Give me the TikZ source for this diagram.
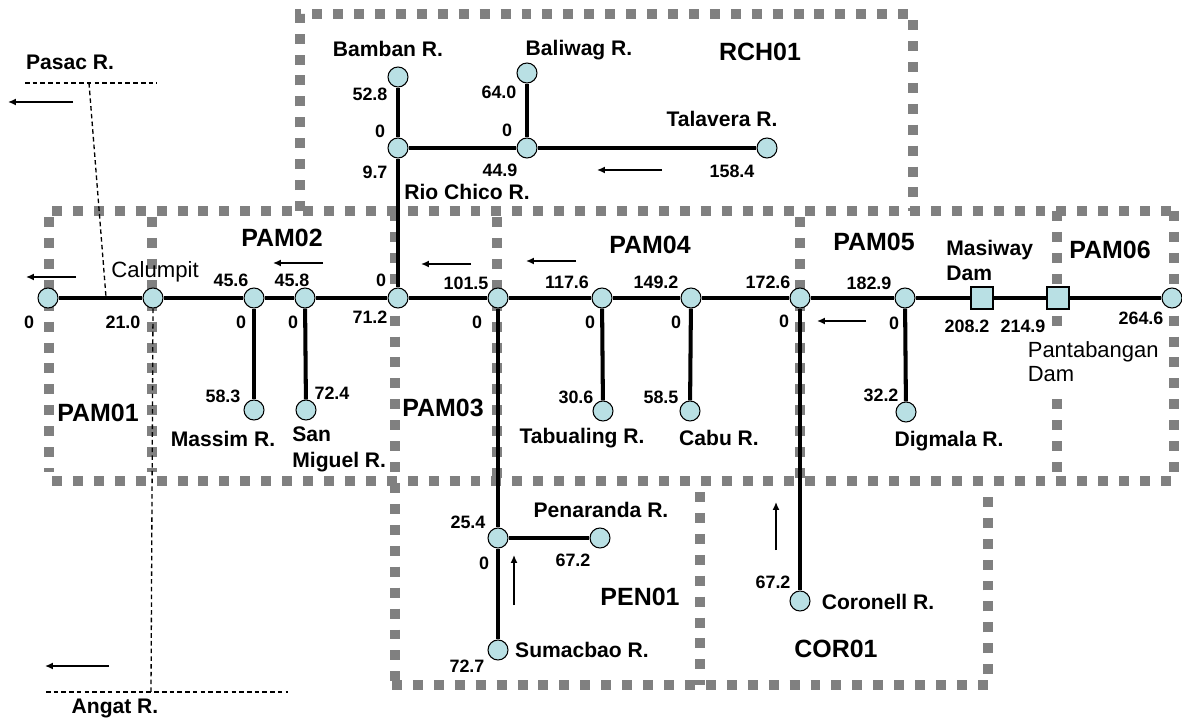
\documentclass[tikz,border=0pt]{standalone}
\usepackage{fontspec}
\setmainfont{Liberation Sans}
\usetikzlibrary{arrows.meta}
\definecolor{nodeblue}{RGB}{185,224,228}
\definecolor{boxgray}{RGB}{128,128,128}
\begin{document}
\begin{tikzpicture}[x=0.02cm,y=-0.02cm,
  zonebox/.style={draw=boxgray,line width=5.67pt,dash pattern=on 5.67pt off 6.24pt},
  river/.style={line width=2.3pt},
  pt/.style={circle,draw,fill=nodeblue,line width=0.6pt,minimum size=0.4cm,inner sep=0},
  dam/.style={rectangle,draw,fill=nodeblue,line width=0.6pt,minimum size=0.44cm,inner sep=0},
  flow/.style={line width=0.85pt,-{Latex[length=4.5pt,width=4pt]}},
  guide/.style={line width=0.75pt,dash pattern=on 2.6pt off 1.8pt},
  lbl/.style={font=\bfseries\fontsize{12}{14}\selectfont,inner sep=0},
  num/.style={font=\bfseries\fontsize{10.2}{11.5}\selectfont,inner sep=0},
  reg/.style={font=\fontsize{12.6}{14}\selectfont,inner sep=0},
  zone/.style={font=\bfseries\fontsize{14.2}{16}\selectfont,inner sep=0}]
\useasboundingbox (0,0) rectangle (1182,722);

% ---- zone boxes (square-dotted grey) ----
\draw[zonebox] (300,211) -- (300,14) -- (913,14) -- (913,211);
\draw[zonebox] (52,211) -- (1174,211);
\draw[zonebox] (52,481) -- (1174,481);
\draw[zonebox] (49,217) -- (49,472);
\draw[zonebox] (152,217) -- (152,472);
\draw[zonebox] (395,211) -- (395,685);
\draw[zonebox] (497,217) -- (497,481);
\draw[zonebox] (800,217) -- (800,481);
\draw[zonebox] (1057,211) -- (1057,481);
\draw[zonebox] (1174,211) -- (1174,481);
\draw[zonebox] (392,685) -- (988,685) -- (988,492);
\draw[zonebox] (700,492) -- (700,685);

% ---- river nodes ----
\node[pt] (n0)    at (48,298) {};
\node[pt] (ncal)  at (153,298) {};
\node[pt] (n456)  at (254,298) {};
\node[pt] (n458)  at (305,298) {};
\node[pt] (n712)  at (398,298) {};
\node[pt] (n1015) at (498,298) {};
\node[pt] (n1176) at (602,298) {};
\node[pt] (n1492) at (691,298) {};
\node[pt] (n1726) at (800,298) {};
\node[pt] (n1829) at (905,298) {};
\node[dam] (dmas) at (982,298) {};
\node[dam] (dpan) at (1058,298) {};
\node[pt] (n2646) at (1172,298) {};

\node[pt] (massim) at (254,410) {};
\node[pt] (sanmig) at (306,410) {};
\node[pt] (rioj)   at (398,148) {};
\node[pt] (bamban) at (398,77) {};
\node[pt] (balj)   at (527,148) {};
\node[pt] (baliwag) at (527,73) {};
\node[pt] (talav)  at (767,148) {};
\node[pt] (tabual) at (603,411) {};
\node[pt] (cabu)   at (690,411) {};
\node[pt] (digm)   at (906,412) {};
\node[pt] (penj)   at (498,538) {};
\node[pt] (penar)  at (600,538) {};
\node[pt] (sumac)  at (498,650) {};
\node[pt] (coron)  at (800,601) {};

% ---- river reaches ----
\draw[river] (n0) -- (ncal) -- (n456) -- (n458) -- (n712) -- (n1015) -- (n1176) -- (n1492) -- (n1726) -- (n1829) -- (dmas) -- (dpan) -- (n2646);
\draw[river] (n456) -- (massim);
\draw[river] (n458) -- (sanmig);
\draw[river] (n712) -- (rioj) -- (bamban);
\draw[river] (rioj) -- (balj) -- (talav);
\draw[river] (balj) -- (baliwag);
\draw[river] (n1176) -- (tabual);
\draw[river] (n1492) -- (cabu);
\draw[river] (n1829) -- (digm);
\draw[river] (n1015) -- (penj) -- (sumac);
\draw[river] (penj) -- (penar);
\draw[river] (n1726) -- (coron);

% ---- tributary guide lines (dashed) ----
\coordinate (pasacL) at (25,83);
\coordinate (pasacR) at (157,83);
\coordinate (pasacJ) at (89,83);
\coordinate (pasacM) at (106,297);
\draw[guide] (pasacL) -- (pasacR);
\draw[guide] (pasacJ) -- (pasacM);
\coordinate (angatL) at (46,692);
\coordinate (angatR) at (288,692);
\coordinate (angatJ) at (151,692);
\draw[guide] (angatL) -- (angatR);
\draw[guide] (ncal.south) -- (angatJ);

% ---- flow arrows ----
\draw[flow] (73,102) -- (8,102);
\draw[flow] (76,277) -- (26,277);
\draw[flow] (323,263) -- (273,263);
\draw[flow] (471,264) -- (421,264);
\draw[flow] (576,261) -- (526,261);
\draw[flow] (662,170) -- (597,170);
\draw[flow] (866,321) -- (817,321);
\draw[flow] (514,605) -- (514,555);
\draw[flow] (776,550) -- (776,502);
\draw[flow] (109,666) -- (45,666);

% ---- zone labels ----
\node[zone] (zr) at (760,52) {RCH01};
\node[zone] (z1) at (98,413) {PAM01};
\node[zone] (z2) at (282,238) {PAM02};
\node[zone] (z3) at (443,408) {PAM03};
\node[zone] (z4) at (650,245) {PAM04};
\node[zone] (z5) at (874,242) {PAM05};
\node[zone] (z6) at (1110,250) {PAM06};
\node[zone] (zp) at (640,597) {PEN01};
\node[zone] (zc) at (836,649) {COR01};

% ---- river names ----
\node[lbl] (tpasac) at (70,62) {Pasac R.};
\node[lbl] (tangat) at (115,708) {Angat R.};
\node[lbl] (tbamban) at (388,49) {Bamban R.};
\node[lbl] (tbaliwag) at (579,50) {Baliwag R.};
\node[lbl] (trio) at (467,192) {Rio Chico R.};
\node[lbl] (ttalav) at (722,119) {Talavera R.};
\node[reg] (tcal) at (155,272) {Calumpit};
\node[lbl] (tmassim) at (223,439) {Massim R.};
\node[lbl,align=left,anchor=west,font=\bfseries\fontsize{12}{14.7}\selectfont] (tsanmig) at (292,449) {San\\Miguel R.};
\node[lbl] (ttabual) at (582,438) {Tabualing R.};
\node[lbl] (tcabu) at (719,438) {Cabu R.};
\node[lbl] (tdigm) at (949,441) {Digmala R.};
\node[lbl,align=left,anchor=west,font=\bfseries\fontsize{12}{14.2}\selectfont] (tmas) at (946,260) {Masiway\\Dam};
\node[reg,align=left,anchor=west,fill=white,inner xsep=2pt,inner ysep=5pt,font=\fontsize{12.5}{13.6}\selectfont] (tpan) at (1024,362) {Pantabangan\\Dam};
\node[lbl] (tpenar) at (601,510) {Penaranda R.};
\node[lbl] (tsumac) at (582,650) {Sumacbao R.};
\node[lbl] (tcoron) at (878,602) {Coronell R.};

% ---- chainage numbers ----
\node[num] at (370,94) {52.8};
\node[num] at (380,131) {0};
\node[num] at (375,172) {9.7};
\node[num] at (499,92) {64.0};
\node[num] at (507,130) {0};
\node[num] at (500,170) {44.9};
\node[num] at (732,171) {158.4};
\node[num] at (29,322) {0};
\node[num] at (123,322) {21.0};
\node[num] at (231,280) {45.6};
\node[num] at (241,322) {0};
\node[num] at (292,280) {45.8};
\node[num] at (293,322) {0};
\node[num] at (381,280) {0};
\node[num] at (370,317) {71.2};
\node[num] at (466,283) {101.5};
\node[num] at (477,322) {0};
\node[num] at (567,282) {117.6};
\node[num] at (590,322) {0};
\node[num] at (656,282) {149.2};
\node[num] at (676,322) {0};
\node[num] at (768,282) {172.6};
\node[num] at (784,321) {0};
\node[num] at (869,283) {182.9};
\node[num] at (894,323) {0};
\node[num] at (967,326) {208.2};
\node[num] at (1023,326) {214.9};
\node[num] at (1141,318) {264.6};
\node[num] at (223,396) {58.3};
\node[num] at (332,393) {72.4};
\node[num] at (576,397) {30.6};
\node[num] at (661,397) {58.5};
\node[num] at (881,395) {32.2};
\node[num] at (468,522) {25.4};
\node[num] at (484,563) {0};
\node[num] at (573,560) {67.2};
\node[num] at (467,666) {72.7};
\node[num] at (773,582) {67.2};
\end{tikzpicture}
\end{document}
